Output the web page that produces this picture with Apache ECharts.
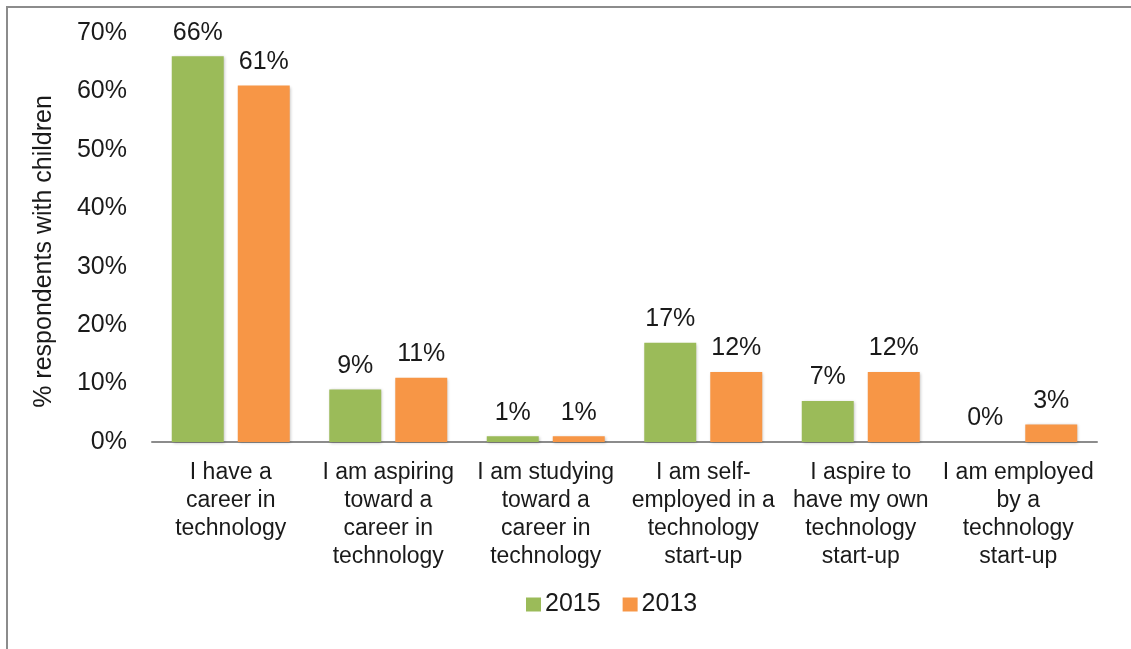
<!DOCTYPE html>
<html>
<head>
<meta charset="utf-8">
<script src="https://cdn.jsdelivr.net/npm/echarts@6/dist/echarts.min.js"></script>
<style>
  html, body { margin: 0; padding: 0; background: #fff; }
  #frame { position: absolute; left: 6px; top: 6px; width: 1125px; height: 643px;
           border-left: 2px solid #8c8c8c; border-top: 2px solid #8c8c8c; box-sizing: border-box; }
  #chart { position: absolute; left: 0; top: 0; width: 1131px; height: 649px; }
</style>
</head>
<body>
<div id="frame"></div>
<div id="chart"></div>
<script>
const categories = [
  'I have a\ncareer in\ntechnology',
  'I am aspiring\ntoward a\ncareer in\ntechnology',
  'I am studying\ntoward a\ncareer in\ntechnology',
  'I am self-\nemployed in a\ntechnology\nstart-up',
  'I aspire to\nhave my own\ntechnology\nstart-up',
  'I am employed\nby a\ntechnology\nstart-up'
];
const values2015 = [66, 9, 1, 17, 7, 0];
const values2013 = [61, 11, 1, 12, 12, 3];
const yTicks = [0, 10, 20, 30, 40, 50, 60, 70];

const font = '"Liberation Sans", Arial, sans-serif';
const chart = echarts.init(document.getElementById('chart'), null, { renderer: 'canvas' });

const labelStyle = {
  show: true, position: 'top', distance: 11,
  formatter: p => p.value + '%',
  fontSize: 25, color: '#1a1a1a', fontFamily: font
};
const shadow = { shadowColor: 'rgba(0,0,0,0.25)', shadowBlur: 3, shadowOffsetX: 1, shadowOffsetY: 1 };

chart.setOption({
  animation: false,
  grid: { left: 152, right: 34, top: 33, bottom: 207 },
  legend: {
    top: 592, left: 526, padding: 0,
    itemWidth: 15, itemHeight: 14, itemGap: 22,
    icon: 'rect',
    textStyle: { fontSize: 25, color: '#1a1a1a', fontFamily: font, padding: [0, 0, 0, -1] },
    data: ['2015', '2013']
  },
  xAxis: {
    type: 'category',
    data: categories,
    axisLine: { lineStyle: { color: '#8c8c8c', width: 2 } },
    axisTick: { show: false },
    axisLabel: { interval: 0, fontSize: 23, lineHeight: 28, color: '#1a1a1a', fontFamily: font, margin: 17 }
  },
  yAxis: {
    type: 'value',
    min: yTicks[0], max: yTicks[yTicks.length - 1], interval: 10,
    name: '% respondents with children',
    nameLocation: 'middle', nameGap: 95, nameRotate: 90,
    nameTextStyle: { fontSize: 25, color: '#1a1a1a', fontFamily: font, padding: [0, 28, 0, 0] },
    axisLine: { show: false },
    axisTick: { show: false },
    splitLine: { show: false },
    axisLabel: { formatter: v => v + '%', fontSize: 25, color: '#1a1a1a', fontFamily: font, margin: 25 }
  },
  series: [
    {
      name: '2015', type: 'bar', data: values2015,
      barWidth: '33%', barGap: '27%',
      itemStyle: Object.assign({ color: '#9BBB59' }, shadow),
      label: labelStyle
    },
    {
      name: '2013', type: 'bar', data: values2013,
      barWidth: '33%', barGap: '27%',
      itemStyle: Object.assign({ color: '#F79646' }, shadow),
      label: labelStyle
    }
  ]
});
</script>
</body>
</html>
